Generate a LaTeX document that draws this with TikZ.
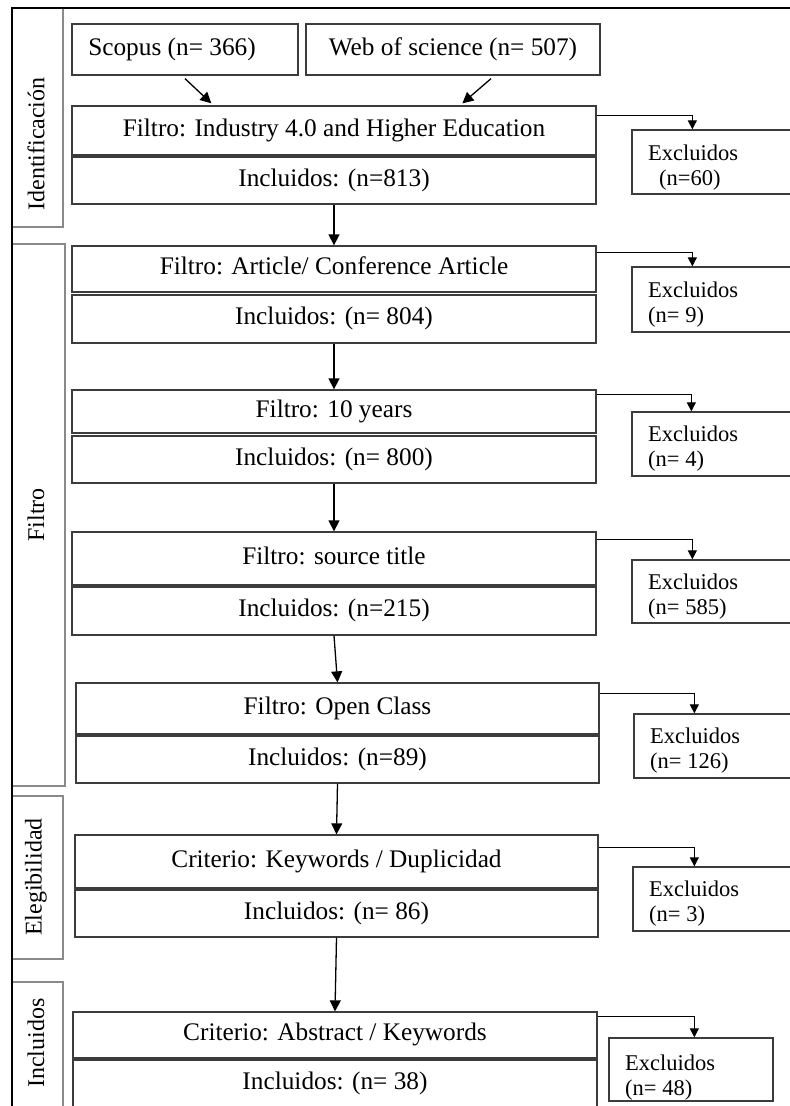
\documentclass[tikz,border=0pt]{standalone}
\usepackage{fontspec}
\setmainfont{Liberation Serif}
\usetikzlibrary{arrows.meta}
\definecolor{boxline}{HTML}{3C3C3C}
\definecolor{lblline}{HTML}{8A8A8A}
\begin{document}
\begin{tikzpicture}[x=1pt,y=-1pt,
  mainbox/.style={draw=boxline, line width=1.3pt, inner sep=0pt, font=\fontsize{25.3}{30}\selectfont, text height=17pt, text depth=5.5pt},
  excbox/.style={draw=boxline, line width=1.3pt, inner sep=0pt},
  exctext/.style={font=\fontsize{22.5}{25}\selectfont, align=left, anchor=west, inner sep=0pt},
  lblbox/.style={draw=lblline, line width=1.5pt, inner sep=0pt},
  lbltext/.style={font=\fontsize{24}{28}\selectfont, rotate=90, inner sep=0pt},
  arr/.style={line width=1.3pt, -{Triangle[length=11pt,width=11pt]}},
  earr/.style={line width=1pt, -{Triangle[length=9pt,width=9pt]}},
]
\useasboundingbox (0,0) rectangle (790,1106);
\clip (0,0) rectangle (790,1106);
\fill[white] (0,0) rectangle (790,1106);

% stage label boxes
\node[lblbox, minimum width=51pt, minimum height=219pt] (lb1) at (37.5,117.5) {};
\node[lblbox, minimum width=53pt, minimum height=542pt] (lb2) at (38.5,515) {};
\node[lblbox, minimum width=51pt, minimum height=163pt] (lb3) at (37.5,877.5) {};
\node[lblbox, minimum width=51pt, minimum height=133pt] (lb4) at (37.5,1048.5) {};
\node[lbltext] (lt1) at (36,144) {Identificación};
\node[lbltext] (lt2) at (36,515) {Filtro};
\node[lbltext] (lt3) at (36,877) {Elegibilidad};
\node[lbltext] (lt4) at (36,1043) {Incluidos};

% outer frame
\draw[black, line width=1.5pt] (12,1120) -- (12,8) -- (800,8);

% sources
\node[mainbox, minimum width=226pt, minimum height=51pt] (sc) at (185,49.5) {Scopus (n= 366)\kern26pt\mbox{}};
\node[mainbox, minimum width=294pt, minimum height=51pt] (web) at (453,49.5) {Web of science (n= 507)};

% filter / included boxes
\node[mainbox, minimum width=524pt, minimum height=49pt] (f1) at (334,130.5) {Filtro: Industry 4.0 and Higher Education};
\node[mainbox, minimum width=524pt, minimum height=47pt] (i1) at (334,180.5) {Incluidos: (n=813)};
\node[mainbox, minimum width=524pt, minimum height=46pt] (f2) at (334,269) {Filtro: Article/ Conference Article};
\node[mainbox, minimum width=524pt, minimum height=48pt] (i2) at (334,319) {Incluidos: (n= 804)};
\node[mainbox, minimum width=524pt, minimum height=43pt] (f3) at (334,411.5) {Filtro: 10 years};
\node[mainbox, minimum width=524pt, minimum height=47pt] (i3) at (334,459.5) {Incluidos: (n= 800)};
\node[mainbox, minimum width=524pt, minimum height=53pt] (f4) at (334,558.5) {Filtro: source title};
\node[mainbox, minimum width=524pt, minimum height=48pt] (i4) at (334,611) {Incluidos: (n=215)};
\node[mainbox, minimum width=523pt, minimum height=51pt] (f5) at (337.5,708.5) {Filtro: Open Class};
\node[mainbox, minimum width=523pt, minimum height=47pt] (i5) at (337.5,759.5) {Incluidos: (n=89)};
\node[mainbox, minimum width=523pt, minimum height=53pt] (f6) at (336.5,861.5) {Criterio: Keywords / Duplicidad};
\node[mainbox, minimum width=523pt, minimum height=47pt] (i6) at (336.5,913.5) {Incluidos: (n= 86)};
\node[mainbox, minimum width=524pt, minimum height=46pt] (f7) at (335,1035) {Criterio: Abstract / Keywords};
\node[mainbox, minimum width=524pt, minimum height=47pt] (i7) at (335,1083.5) {Incluidos: (n= 38)};

% excluded boxes
\node[excbox, minimum width=168pt, minimum height=64pt] (ex1) at (716,162) {};
\node[excbox, minimum width=168pt, minimum height=65pt] (ex2) at (716,299.5) {};
\node[excbox, minimum width=168pt, minimum height=64pt] (ex3) at (716,444) {};
\node[excbox, minimum width=168pt, minimum height=63pt] (ex4) at (716,591.5) {};
\node[excbox, minimum width=166pt, minimum height=64pt] (ex5) at (717,746) {};
\node[excbox, minimum width=167pt, minimum height=64pt] (ex6) at (716.5,899) {};
\node[excbox, minimum width=164pt, minimum height=63pt] (ex7) at (691,1069.5) {};
\node[exctext] (et1) at (648,167.5) {Excluidos\\\hspace{11pt}(n=60)};
\node[exctext] (et2) at (648,304.5) {Excluidos\\(n= 9)};
\node[exctext] (et3) at (648,449) {Excluidos\\(n= 4)};
\node[exctext] (et4) at (648,597) {Excluidos\\(n= 585)};
\node[exctext] (et5) at (650,751) {Excluidos\\(n= 126)};
\node[exctext] (et6) at (649,903.5) {Excluidos\\(n= 3)};
\node[exctext] (et7) at (625,1078) {Excluidos\\(n= 48)};

% source arrows
\draw[arr] ([yshift=-3pt]sc.south) -- ([xshift=140pt,yshift=2pt]f1.north west);
\draw[arr] ([xshift=38pt,yshift=-3pt]web.south) -- ([xshift=391pt,yshift=2pt]f1.north west);

% main flow arrows
\draw[arr] (i1.south) -- (f2.north);
\draw[arr] (i2.south) -- (f3.north);
\draw[arr] (i3.south) -- (f4.north);
\draw[arr] (i4.south) -- (f5.north);
\draw[arr] (i5.south) -- (f6.north);
\draw[arr] (i6.south) -- (f7.north);

% exclusion connectors
\draw[earr] ([yshift=-10pt]f1.north east) -| ([xshift=61pt]ex1.north west);
\draw[earr] ([yshift=-7pt]f2.north east) -| ([xshift=61pt]ex2.north west);
\draw[earr] ([yshift=-5pt]f3.north east) -| ([xshift=60pt]ex3.north west);
\draw[earr] ([yshift=-8pt]f4.north east) -| ([xshift=61pt]ex4.north west);
\draw[earr] ([yshift=-11pt]f5.north east) -| ([xshift=61pt]ex5.north west);
\draw[earr] ([yshift=-13pt]f6.north east) -| ([xshift=62pt]ex6.north west);
\draw[earr] ([yshift=-5pt]f7.north east) -| ([xshift=86pt]ex7.north west);
\end{tikzpicture}
\end{document}
